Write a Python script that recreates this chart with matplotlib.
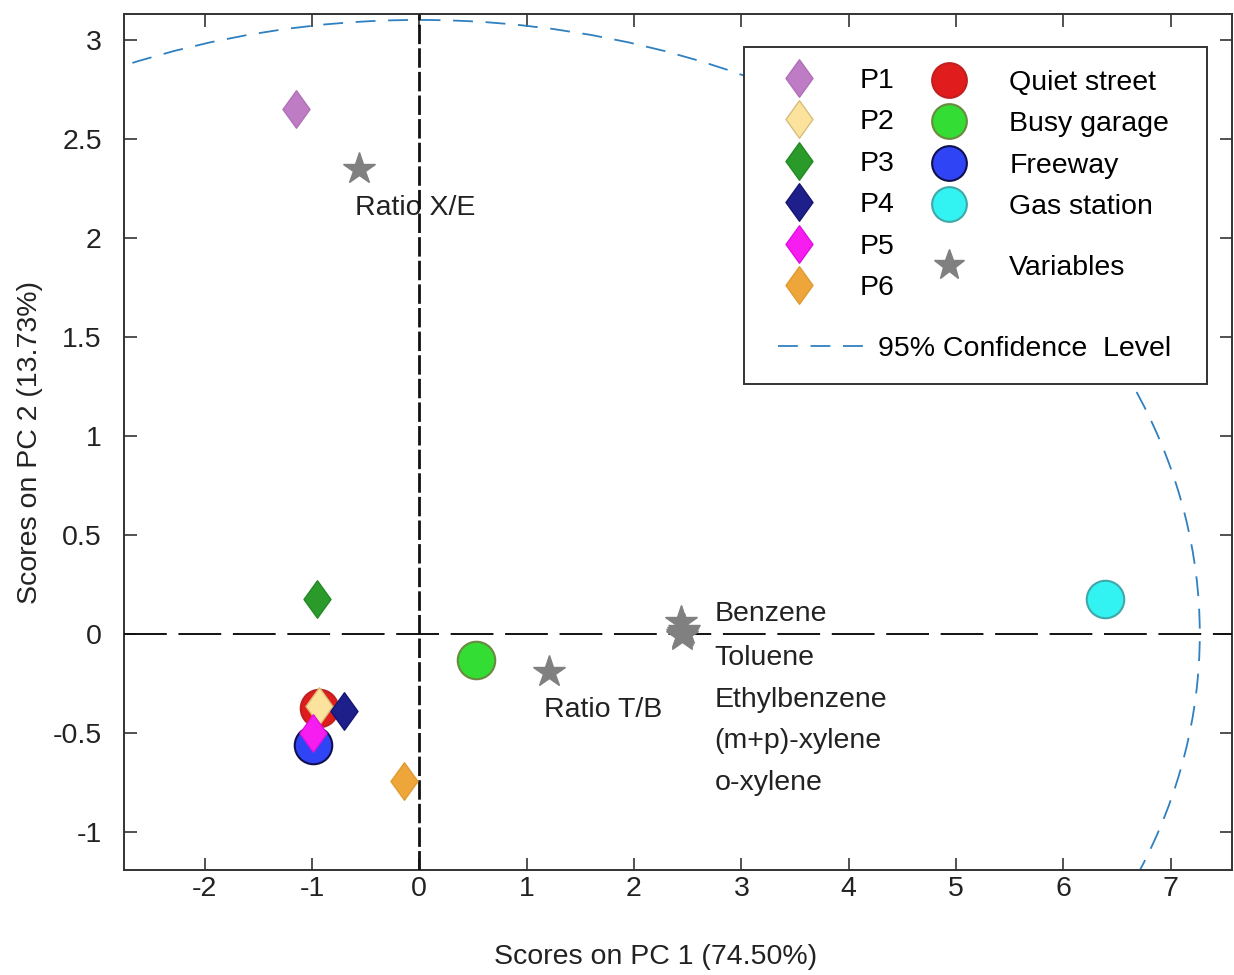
import numpy as np
import matplotlib.pyplot as plt
from matplotlib.lines import Line2D
from matplotlib.patches import Ellipse, Rectangle
from matplotlib.path import Path

plt.rcParams['font.family'] = ['Liberation Sans', 'DejaVu Sans']
plt.rcParams['axes.unicode_minus'] = False

# --- data ---
sample_names = ['P1', 'P2', 'P3', 'P4', 'P5', 'P6']
sample_pc1 = [-1.15, -0.93, -0.95, -0.70, -0.99, -0.14]
sample_pc2 = [2.65, -0.36, 0.18, -0.39, -0.50, -0.74]
sample_face = ['#bd7cc4', '#fbe39e', '#2a9a2a', '#1f1f8c', '#f71cf0', '#eea63a']
sample_edge = ['#b070b8', '#d8bd78', '#238a23', '#151570', '#e010e0', '#e09a30']

site_names = ['Quiet street', 'Busy garage', 'Freeway', 'Gas station']
site_pc1 = [-0.93, 0.53, -0.99, 6.39]
site_pc2 = [-0.37, -0.13, -0.56, 0.18]
site_face = ['#e01c1c', '#33dd33', '#2f45f5', '#33f2f2']
site_edge = ['#c02020', '#6a8a40', '#101050', '#40a8a8']

var_names = ['Benzene', 'Toluene', 'Ethylbenzene', '(m+p)-xylene', 'o-xylene',
             'Ratio T/B', 'Ratio X/E']
var_pc1 = [2.44, 2.46, 2.45, 2.47, 2.45, 1.21, -0.56]
var_pc2 = [0.06, 0.01, -0.01, 0.02, 0.00, -0.19, 2.35]

# label anchors (left edge, vertical centre) for the variable names
var_label_x = [2.75, 2.75, 2.75, 2.75, 2.75, 1.16, -0.60]
var_label_y = [0.10, -0.12, -0.33, -0.54, -0.75, -0.38, 2.15]

conf_a, conf_b = 7.27, 3.10   # semi-axes of the 95% ellipse

xticks = [-2, -1, 0, 1, 2, 3, 4, 5, 6, 7]
yticks = [-1, -0.5, 0, 0.5, 1, 1.5, 2, 2.5, 3]
ytick_labels = ['-1', '-0.5', '0', '0.5', '1', '1.5', '2', '2.5', '3']

W, H = 1234, 975
FS = 20.5
TXT = '#222222'

# thin diamond like the MATLAB marker
diamond = Path([(0, 1), (0.72, 0), (0, -1), (-0.72, 0), (0, 1)],
               [Path.MOVETO, Path.LINETO, Path.LINETO, Path.LINETO, Path.CLOSEPOLY])

fig = plt.figure(figsize=(W / 100, H / 100), dpi=100)
ax = fig.add_axes([124 / W, 1 - 870 / H, (1232 - 124) / W, (870 - 14) / H])

ax.set_xlim(-2.75, 7.57)
ax.set_ylim(-1.19, 3.13)

# reference lines and confidence ellipse
ax.axhline(0, color='#111111', lw=1.4, ls=(0, (22, 6)), zorder=3)
ax.axvline(0, color='#111111', lw=2.0, ls=(0, (7, 1.5)), zorder=3)
ax.add_patch(Ellipse((0, 0), 2 * conf_a, 2 * conf_b, fill=False,
                     ec='#2f80c0', lw=1.3, ls=(0, (11, 7)), zorder=2))

# sites (circles) first so sample diamonds sit on top
for i, name in enumerate(site_names):
    ax.plot(site_pc1[i], site_pc2[i], 'o', ms=27, mfc=site_face[i],
            mec=site_edge[i], mew=1.5, zorder=4)
for i, name in enumerate(sample_names):
    ax.plot(sample_pc1[i], sample_pc2[i], marker=diamond, ms=27, ls='none',
            mfc=sample_face[i], mec=sample_edge[i], mew=1, zorder=5)
ax.plot(var_pc1, var_pc2, '*', ms=24, color='#808080', ls='none', zorder=5)

for name, lx, ly in zip(var_names, var_label_x, var_label_y):
    ax.text(lx, ly, name, fontsize=FS, color=TXT, ha='left', va='center', zorder=1)

# axes styling
ax.set_xticks(xticks)
ax.set_xticklabels([str(t) for t in xticks])
ax.set_yticks(yticks)
ax.set_yticklabels(ytick_labels)
ax.tick_params(direction='in', length=9, width=1.2, top=True, right=True,
               labelsize=FS, labelcolor=TXT, color='#333333')
ax.tick_params(axis='y', pad=16)
ax.tick_params(axis='x', pad=4)
for sp in ax.spines.values():
    sp.set_linewidth(1.4)
    sp.set_color('#333333')
ax.set_xlabel('Scores on PC 1 (74.50%)', fontsize=FS, color=TXT)
ax.set_ylabel('Scores on PC 2 (13.73%)', fontsize=FS, color=TXT)
ax.xaxis.set_label_coords((656 - 124) / (1232 - 124), -(957 - 870) / (870 - 14))
ax.yaxis.set_label_coords(-(124 - 30) / (1232 - 124), 0.5)
ax.xaxis.label.set_va('center')
ax.yaxis.label.set_va('center')

# --- legend (several pieces inside one frame) ---
def anchor(x, y):
    return (x / W, 1 - y / H)

frame = Rectangle(anchor(744, 384), (1207 - 744) / W, (384 - 47) / H,
                  transform=fig.transFigure, fc='white', ec='#333333', lw=1.4,
                  zorder=6, clip_on=False)
ax.add_patch(frame)

leg_kw = dict(frameon=False, fontsize=FS, borderpad=0, borderaxespad=0,
              loc='upper left', bbox_transform=fig.transFigure,
              handlelength=2.0, handletextpad=1.1, labelspacing=0.54)

p_handles = [Line2D([], [], marker=diamond, ms=27, ls='none', mfc=sample_face[i],
                    mec=sample_edge[i], mew=1) for i in range(len(sample_names))]
leg1 = ax.legend(p_handles, sample_names, bbox_to_anchor=anchor(771, 68), **leg_kw)
leg1.set_zorder(7)
ax.add_artist(leg1)

s_handles = [Line2D([], [], marker='o', ms=25, ls='none', mfc=site_face[i],
                    mec=site_edge[i], mew=1.5) for i in range(len(site_names))]
leg2 = ax.legend(s_handles, site_names, bbox_to_anchor=anchor(921, 70), **leg_kw)
leg2.set_zorder(7)
ax.add_artist(leg2)

v_handle = [Line2D([], [], marker='*', ms=23, ls='none', color='#808080')]
leg3 = ax.legend(v_handle, ['Variables'], bbox_to_anchor=anchor(921, 255), **leg_kw)
leg3.set_zorder(7)
ax.add_artist(leg3)

c_kw = dict(leg_kw)
c_kw.update(handlelength=3.05, handletextpad=0.45)
c_handle = [Line2D([], [], color='#2f80c0', lw=1.3, ls=(0, (11, 7)))]
leg4 = ax.legend(c_handle, ['95% Confidence  Level'], bbox_to_anchor=anchor(778, 336), **c_kw)
leg4.set_zorder(7)

fig.savefig('out.png', dpi=100)
